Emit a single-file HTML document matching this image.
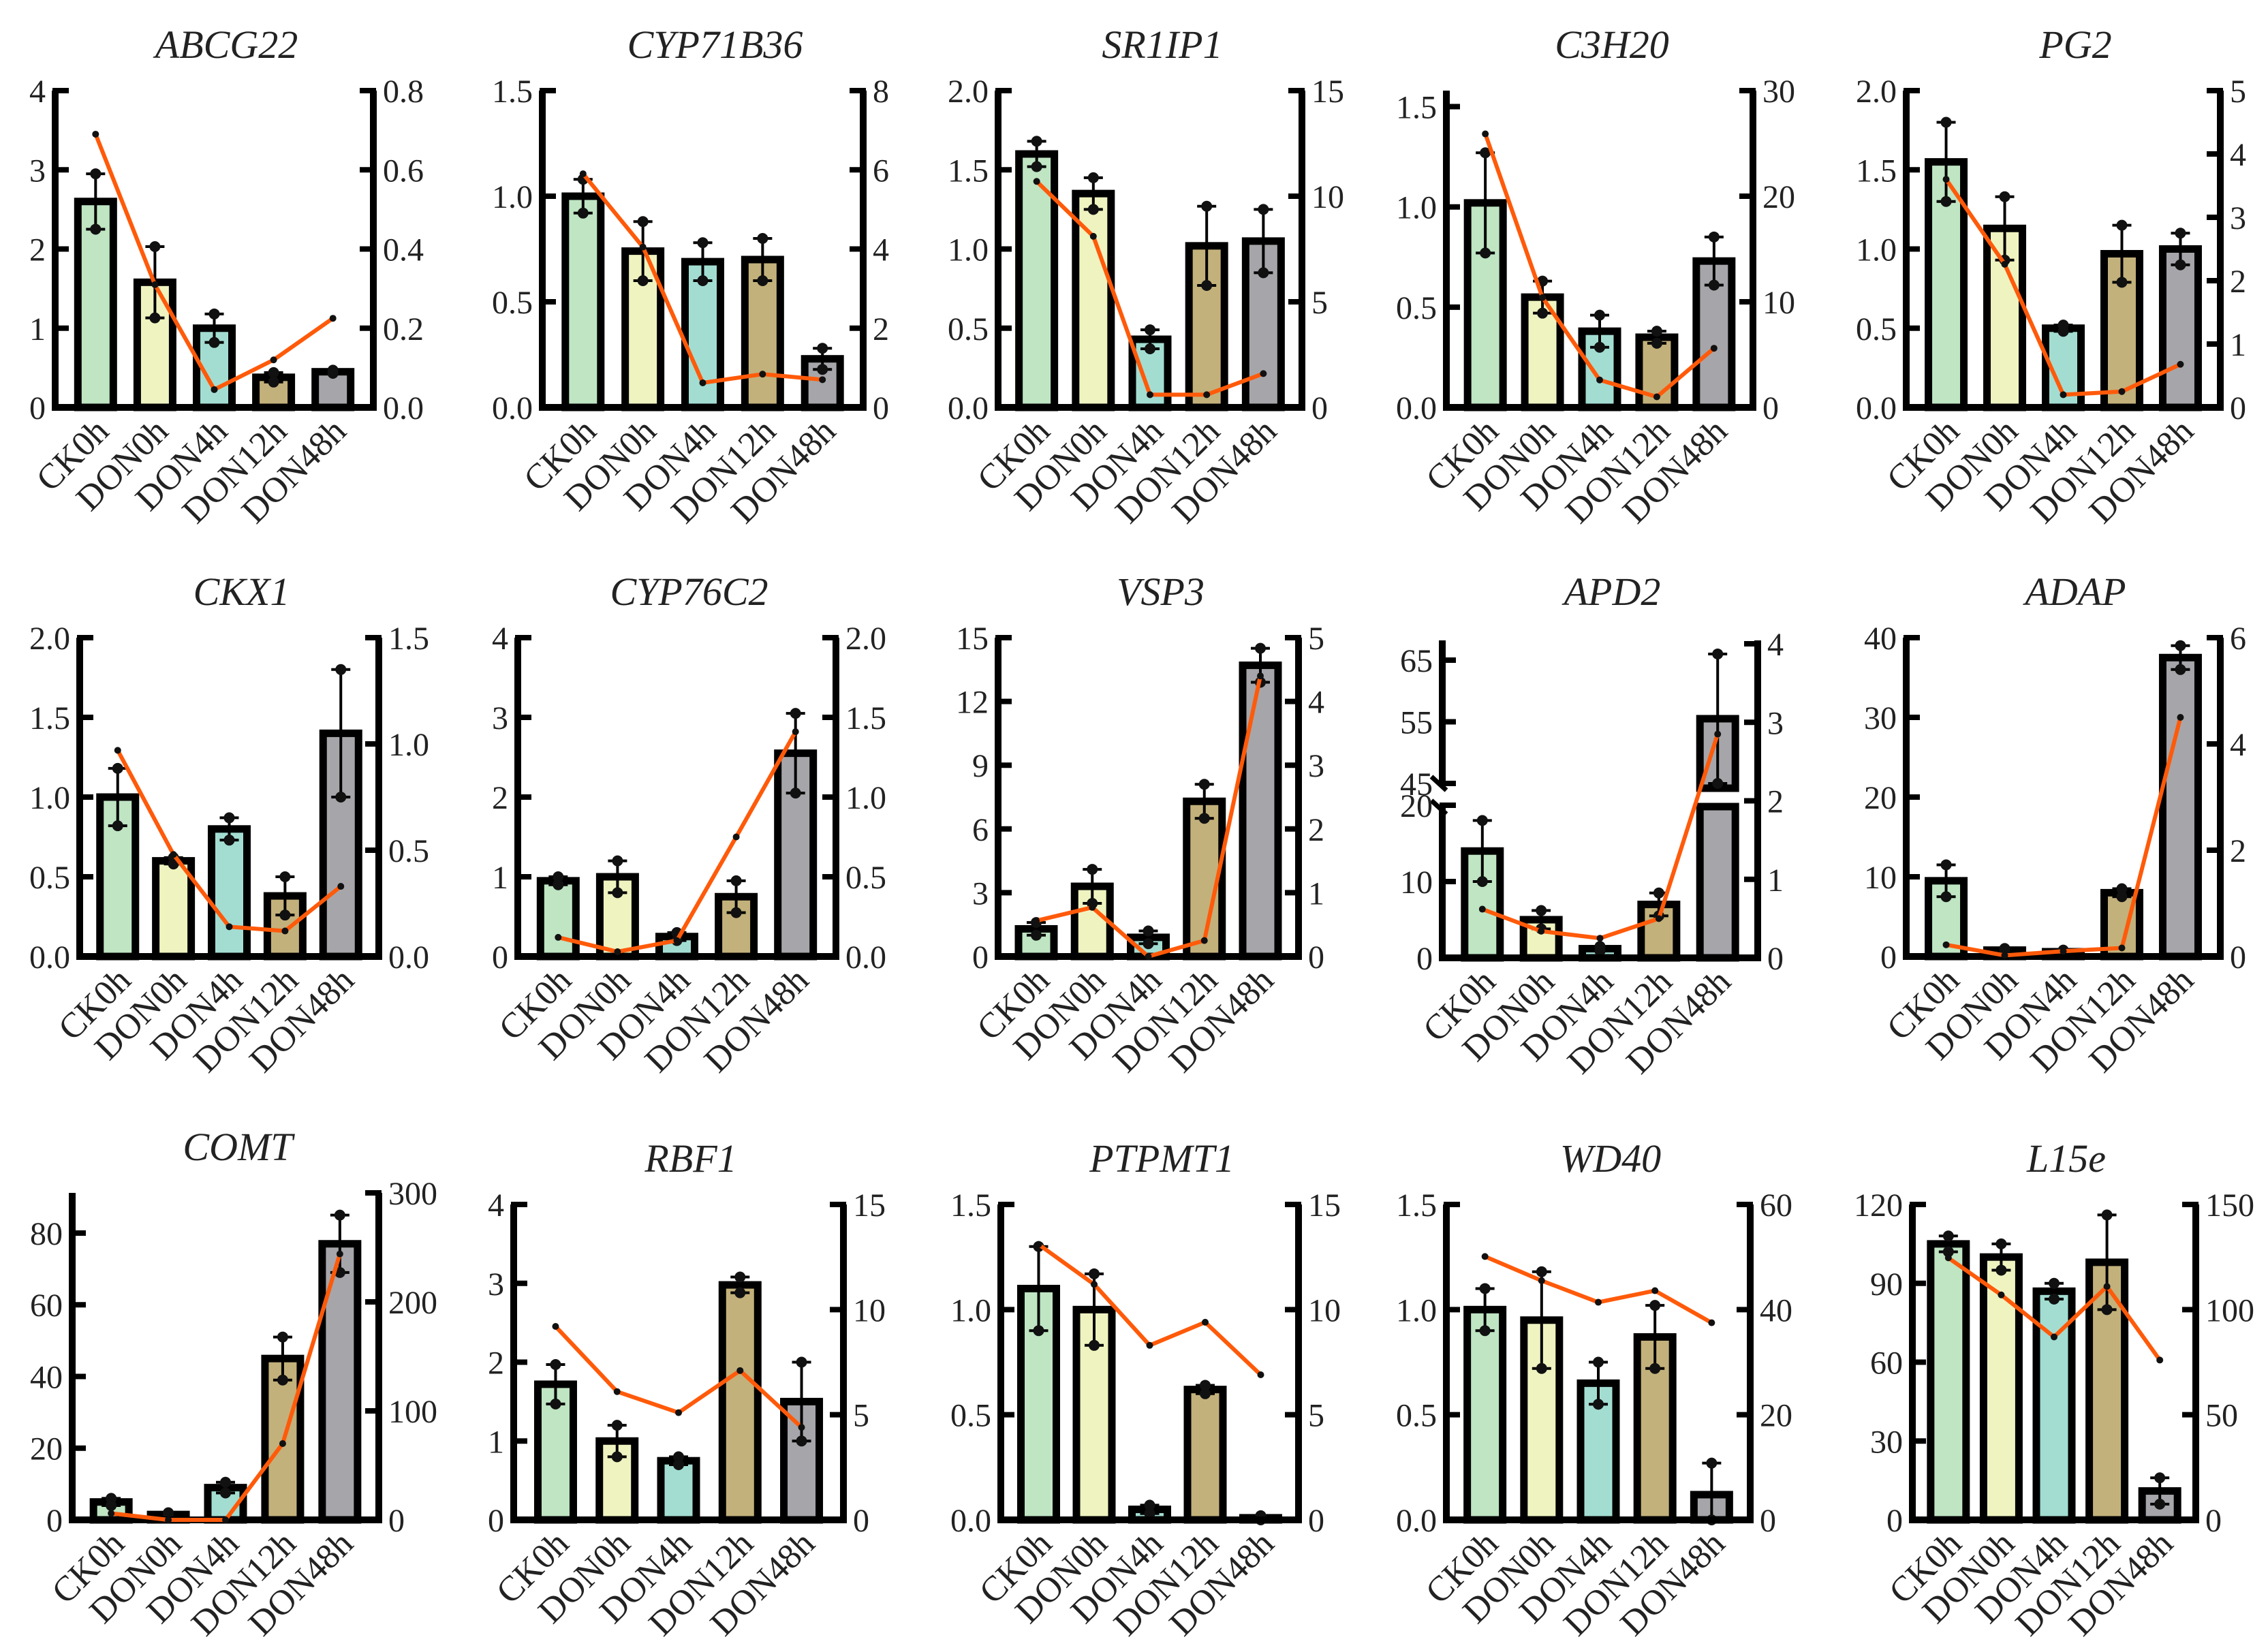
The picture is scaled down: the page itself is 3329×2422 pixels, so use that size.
<!DOCTYPE html>
<html><head><meta charset="utf-8"><title>Gene expression panels</title>
<style>
html,body{margin:0;padding:0;background:#fff;}
svg{display:block;}
text{font-family:"Liberation Serif",serif;fill:#222;}
</style></head>
<body>
<svg id="chart" xmlns="http://www.w3.org/2000/svg" width="3329" height="2422" viewBox="0 0 3329 2422"></svg>
<script>
// ---- data ----
const categories = ["CK0h","DON0h","DON4h","DON12h","DON48h"];
const genes = ["ABCG22","CYP71B36","SR1IP1","C3H20","PG2","CKX1","CYP76C2","VSP3","APD2","ADAP","COMT","RBF1","PTPMT1","WD40","L15e"];
const barMeans = [
  [2.6,1.58,1.0,0.38,0.45],
  [1.0,0.74,0.69,0.70,0.23],
  [1.6,1.35,0.43,1.02,1.05],
  [1.02,0.55,0.38,0.35,0.73],
  [1.55,1.13,0.5,0.97,1.0],
  [1.0,0.6,0.8,0.38,1.4],
  [0.95,1.0,0.25,0.75,2.55],
  [1.3,3.3,0.9,7.3,13.7],
  [14,5,1.2,7,55.5],
  [9.5,0.8,0.6,8,37.5],
  [5,1.5,9,45,77],
  [1.72,1.0,0.75,2.98,1.5],
  [1.1,1.0,0.05,0.62,0.01],
  [1.0,0.95,0.65,0.87,0.12],
  [105,100,87,98,11]
];
const barErrors = [
  [0.35,0.45,0.18,0.06,0.02],
  [0.08,0.14,0.09,0.10,0.05],
  [0.08,0.10,0.06,0.25,0.20],
  [0.25,0.08,0.08,0.03,0.12],
  [0.25,0.20,0.02,0.18,0.10],
  [0.18,0.02,0.07,0.12,0.40],
  [0.05,0.20,0.05,0.20,0.50],
  [0.3,0.8,0.3,0.8,0.8],
  [4,1.2,0.3,1.5,10.5],
  [2,0.2,0.2,0.5,1.5],
  [1,0.5,1.5,6,8],
  [0.25,0.2,0.05,0.1,0.5],
  [0.2,0.17,0.02,0.02,0.01],
  [0.1,0.23,0.1,0.15,0.15],
  [3,5,3,18,5]
];
const lineValues = [
  [0.69,0.31,0.045,0.12,0.225],
  [5.9,4.05,0.62,0.84,0.7],
  [10.7,8.1,0.6,0.6,1.6],
  [25.9,10.4,2.6,1.0,5.6],
  [3.6,2.26,0.2,0.25,0.68],
  [0.97,0.48,0.14,0.12,0.33],
  [0.12,0.03,0.1,0.75,1.41],
  [0.56,0.77,0.0,0.25,4.4],
  [0.62,0.34,0.25,0.5,2.85],
  [0.22,0.02,0.1,0.16,4.5],
  [6,0,0,70,244],
  [9.2,6.1,5.1,7.1,4.4],
  [13.1,11.2,8.3,9.4,6.9],
  [50.1,45.5,41.4,43.6,37.5],
  [124.6,107,87,111,76]
];
const leftMax = [4,1.5,2.0,1.58,2.0, 2.0,4,15,65,40, 91.2,4,1.5,1.5,120];
const rightMax = [0.8,8,15,30,5, 1.5,2.0,5,4,6, 300,15,15,60,150];
const leftTicks = [
  ["0","1","2","3","4"],["0.0","0.5","1.0","1.5"],["0.0","0.5","1.0","1.5","2.0"],["0.0","0.5","1.0","1.5"],["0.0","0.5","1.0","1.5","2.0"],
  ["0.0","0.5","1.0","1.5","2.0"],["0","1","2","3","4"],["0","3","6","9","12","15"],["0","10","20","45","55","65"],["0","10","20","30","40"],
  ["0","20","40","60","80"],["0","1","2","3","4"],["0.0","0.5","1.0","1.5"],["0.0","0.5","1.0","1.5"],["0","30","60","90","120"]
];
const rightTicks = [
  ["0.0","0.2","0.4","0.6","0.8"],["0","2","4","6","8"],["0","5","10","15"],["0","10","20","30"],["0","1","2","3","4","5"],
  ["0.0","0.5","1.0","1.5"],["0.0","0.5","1.0","1.5","2.0"],["0","1","2","3","4","5"],["0","1","2","3","4"],["0","2","4","6"],
  ["0","100","200","300"],["0","5","10","15"],["0","5","10","15"],["0","20","40","60"],["0","50","100","150"]
];
// ---- layout (not data) ----
const panelBoxes = [
  [81,548,133,598],[796,1267,133,598],[1465,1911,133,598],[2123,2573,133,598],[2798,3259,133,598],
  [117,556,936,1404],[760,1227,936,1404],[1465,1906,936,1404],[2117,2580,936,1406],[2798,3259,936,1404],
  [106,556,1751,2231],[754,1238,1768,2231],[1469,1906,1768,2231],[2123,2569,1768,2231],[2807,3223,1768,2231]
];
const fills = ["#bfe5c3","#eff3c0","#a3ddd2","#c3b17b","#a6a6aa"];
const NS = "http://www.w3.org/2000/svg";
const svg = document.getElementById("chart");
function mk(tag, attrs, parent){
  const e = document.createElementNS(NS, tag);
  for (const k in attrs) e.setAttribute(k, attrs[k]);
  (parent||svg).appendChild(e);
  return e;
}
const AX = 10;
genes.forEach((gene, p) => {
  const [L, R, T, Z] = panelBoxes[p];
  const g = mk("g", {});
  
  
  const isAPD = gene === "APD2";
  let topL = T;
  if (gene === "C3H20") topL = Z - (Z - T) * 1.58 / 1.58;
  const yL = v => {
    if (isAPD) {
      if (v <= 20) return Z - v * 11.2;
      return 1150 - (v - 45) * 9.05;
    }
    return Z - v / leftMax[p] * (Z - T);
  };
  const yR = v => {
    if (isAPD) return Z - v / rightMax[p] * (Z - 945);
    return Z - v / rightMax[p] * (Z - T);
  };
  const w = R - L, pad = 0.127 * w, step = (w - 2 * pad) / 4;
  const xC = i => L + pad + i * step;
  const bw = 52;
  // title
  const t = mk("text", {x: (L + R) / 2 + 18, y: T - 48, "text-anchor": "middle", "font-size": 58, "font-style": "italic"}, g);
  t.textContent = gene;
  
  
  // bars
  barMeans[p].forEach((m, i) => {
    const x = xC(i) - bw / 2;
    if (isAPD && m > 20) {
      const r1 = mk("rect", {x: x, y: yL(20) + 2, width: bw, height: Z - yL(20) - 2, fill: fills[i], stroke: "#000", "stroke-width": 11}, g);
      
      
      const r2 = mk("rect", {x: x, y: yL(m), width: bw, height: 1157 - yL(m), fill: fills[i], stroke: "#000", "stroke-width": 11}, g);
      
      
    } else {
      const r = mk("rect", {x: x, y: yL(m), width: bw, height: Math.max(Z - yL(m), 1), fill: fills[i], stroke: "#000", "stroke-width": 11}, g);
      
      
    }
    const e = barErrors[p][i];
    const yt = yL(m + e), yb = yL(Math.max(m - e, 0));
    const eb = mk("path", {d: `M${xC(i)},${yb}V${yt}M${xC(i)-14},${yt}H${xC(i)+14}M${xC(i)-14},${yb}H${xC(i)+14}`, stroke: "#000", "stroke-width": 4, fill: "none"}, g);
    
    
    [yt, yb].forEach(yy => {
      const d = mk("circle", {cx: xC(i), cy: yy, r: 8, fill: "#111"}, g);
      
      
    });
  });
  // axes
  const axTop = isAPD ? 940 : T;
  if (isAPD) {
    const a1 = mk("path", {d: `M${L},${Z}V1185M${L},1148V${axTop}`, stroke: "#000", "stroke-width": AX, fill: "none"}, g);
    
    
    const br = mk("path", {d: `M${L-16},1140L${L+6},1160M${L-16},1175L${L+6},1195`, stroke: "#000", "stroke-width": 7, fill: "none"}, g);
    
    
  } else {
    const a1 = mk("line", {x1: L, y1: Z, x2: L, y2: axTop, stroke: "#000", "stroke-width": AX}, g);
    
    
  }
  const a2 = mk("line", {x1: R, y1: Z + AX / 2, x2: R, y2: isAPD ? 940 : T, stroke: "#000", "stroke-width": AX}, g);
  
  
  const a3 = mk("line", {x1: L - AX / 2, y1: Z, x2: R + AX / 2, y2: Z, stroke: "#000", "stroke-width": AX}, g);
  
  
  // ticks
  leftTicks[p].forEach(s => {
    const y = yL(parseFloat(s));
    mk("line", {x1: L - 4, y1: y, x2: L + 20, y2: y, stroke: "#000", "stroke-width": 8}, g);
    const tx = mk("text", {x: L - 14, y: y + 17, "text-anchor": "end", "font-size": 48}, g);
    tx.textContent = s;
    
    
  });
  rightTicks[p].forEach(s => {
    const y = yR(parseFloat(s));
    mk("line", {x1: R - 20, y1: y, x2: R + 4, y2: y, stroke: "#000", "stroke-width": 8}, g);
    const tx = mk("text", {x: R + 14, y: y + 17, "text-anchor": "start", "font-size": 48}, g);
    tx.textContent = s;
    
    
  });
  // x labels
  categories.forEach((c, i) => {
    const x = xC(i) + 22, y = Z + 38;
    const tx = mk("text", {x: x, y: y, "text-anchor": "end", "font-size": 52, transform: `rotate(-45 ${x} ${y})`}, g);
    tx.textContent = c;
    
    
  });
  // line series
  const pts = lineValues[p].map((v, i) => `${xC(i)},${yR(v)}`).join(" ");
  const pl = mk("polyline", {points: pts, fill: "none", stroke: "#ff5a0a", "stroke-width": 6, "stroke-linejoin": "round"}, g);
  
  
  lineValues[p].forEach((v, i) => {
    const c = mk("circle", {cx: xC(i), cy: yR(v), r: 5, fill: "#111"}, g);
    
    
  });
});
</script>
</body></html>
